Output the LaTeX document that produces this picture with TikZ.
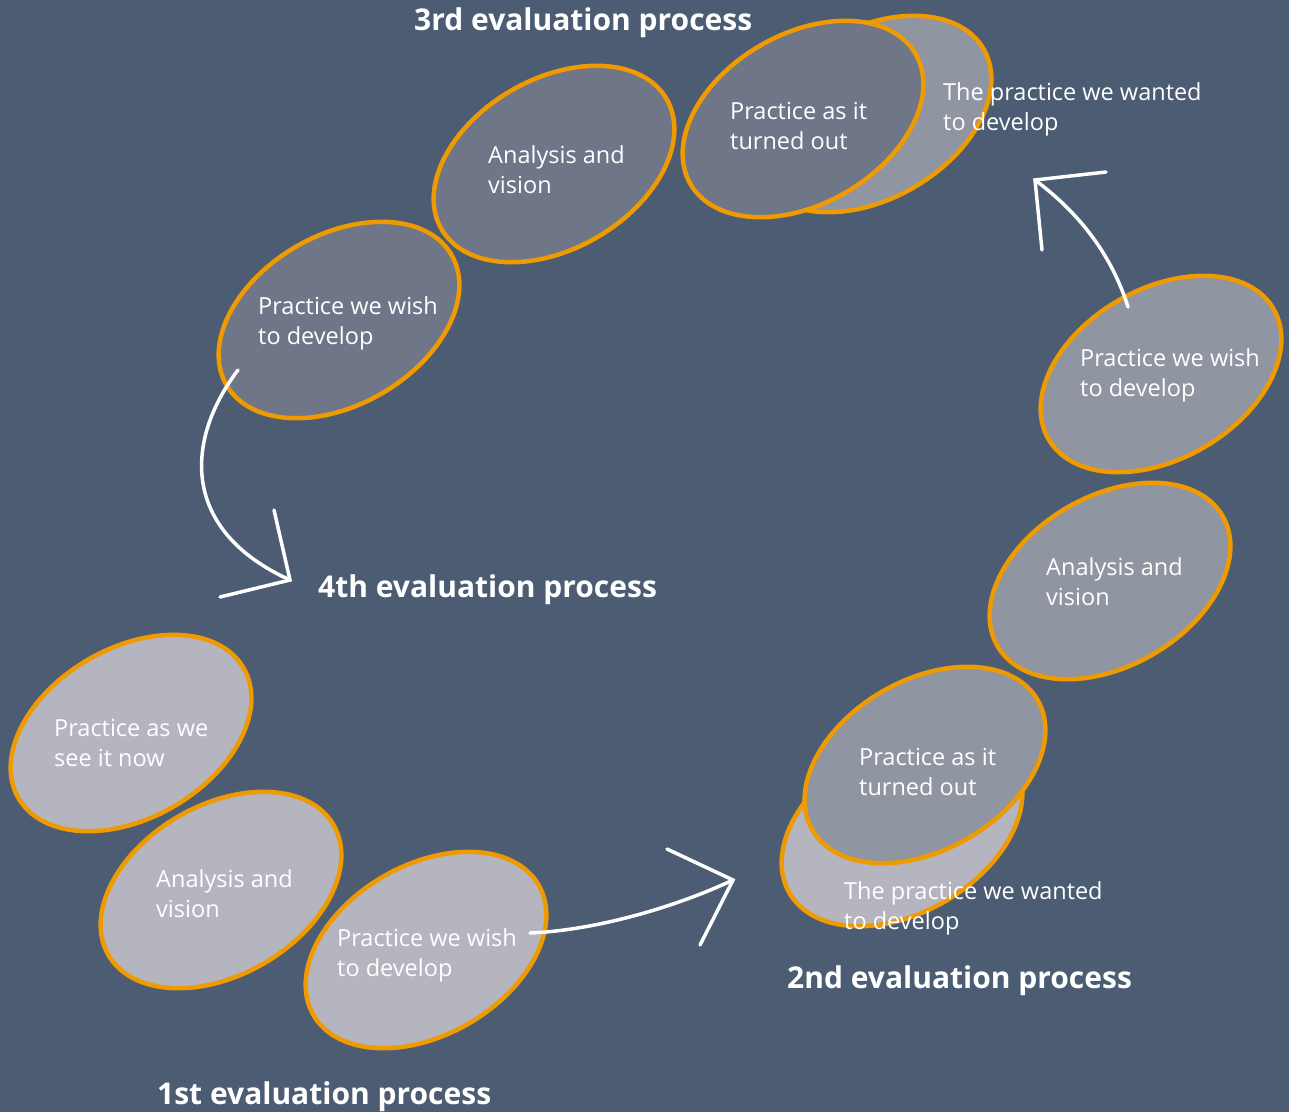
\documentclass[tikz,border=0pt]{standalone}
\usepackage{fontspec}
\setmainfont{Open Sans}
\usetikzlibrary{shapes.geometric}
\definecolor{bgc}{RGB}{75,92,115}
\definecolor{lightc}{RGB}{181,181,192}
\definecolor{midc}{RGB}{144,149,162}
\definecolor{darkc}{RGB}{110,118,136}
\definecolor{orangec}{RGB}{238,154,0}
\begin{document}
\begin{tikzpicture}[x=1pt,y=-1pt,
  blob/.style={ellipse, draw=orangec, line width=4.5pt, minimum width=260pt, minimum height=170pt, rotate=30, inner sep=0pt},
  lbl/.style={anchor=west, align=left, text=white, inner sep=0pt, font=\fontsize{23.5}{30}\selectfont},
  ttl/.style={anchor=west, text=white, inner sep=0pt, font=\bfseries\fontsize{30}{34}\selectfont},
  arr/.style={draw=white, line width=3.5pt, line cap=round, line join=miter}]
\fill[bgc] (0,0) rectangle (1289,1112);
\useasboundingbox (0,0) rectangle (1289,1112);

% 1st group
\node[blob, fill=lightc] (e11) at (131,733) {};
\node[blob, fill=lightc] (e12) at (221,890) {};
\node[blob, fill=lightc] (e13) at (426,950) {};
% 2nd group
\node[blob, fill=lightc] (e24) at (902,828) {};
\node[blob, fill=midc] (e23) at (925,765) {};
\node[blob, fill=midc] (e22) at (1110,581) {};
\node[blob, fill=midc] (e21) at (1161,374) {};
% 3rd group
\node[blob, fill=darkc] (e31) at (339,320) {};
\node[blob, fill=darkc] (e32) at (554,164) {};
\node[blob, fill=midc] (e34) at (871,114) {};
\node[blob, fill=darkc] (e33) at (803,119) {};

% arrows
\coordinate (a1s) at (530,933);
\coordinate (a1t) at (733,880);
\coordinate (a1l) at (667,849);
\coordinate (a1r) at (700,945);
\draw[arr] (a1s) .. controls (600,930) and (680,905) .. (a1t);
\draw[arr] (a1l) -- (a1t) -- (a1r);

\coordinate (a2s) at (1128,307);
\coordinate (a2t) at (1035,180);
\coordinate (a2l) at (1106,172);
\coordinate (a2r) at (1042,250);
\draw[arr] (a2s) .. controls (1110,250) and (1075,210) .. (a2t);
\draw[arr] (a2l) -- (a2t) -- (a2r);

\coordinate (a3s) at (238,370);
\coordinate (a3t) at (290,580);
\coordinate (a3l) at (274,510);
\coordinate (a3r) at (220,597);
\draw[arr] (a3s) .. controls (185,440) and (180,530) .. (a3t);
\draw[arr] (a3l) -- (a3t) -- (a3r);

% labels
\node[lbl] (t11) at (54,743) {Practice as we\\see it now};
\node[lbl] (t12) at (156,894) {Analysis and\\vision};
\node[lbl] (t13) at (337,955) {Practice we wish\\to develop};
\node[lbl] (t23) at (859,772) {Practice as it\\turned out};
\node[lbl] (t24) at (844,908) {The practice we wanted\\to develop};
\node[lbl] (t22) at (1046,582) {Analysis and\\vision};
\node[lbl] (t21) at (1080,375) {Practice we wish\\to develop};
\node[lbl] (t31) at (258,323) {Practice we wish\\to develop};
\node[lbl] (t32) at (488,170) {Analysis and\\vision};
\node[lbl] (t33) at (730,126) {Practice as it\\turned out};
\node[lbl] (t34) at (943,109) {The practice we wanted\\to develop};

% titles
\node[ttl] (p3) at (414,23) {3rd evaluation process};
\node[ttl] (p4) at (318,590) {4th evaluation process};
\node[ttl] (p2) at (787,981) {2nd evaluation process};
\node[ttl] (p1) at (157,1097) {1st evaluation process};
\end{tikzpicture}
\end{document}
